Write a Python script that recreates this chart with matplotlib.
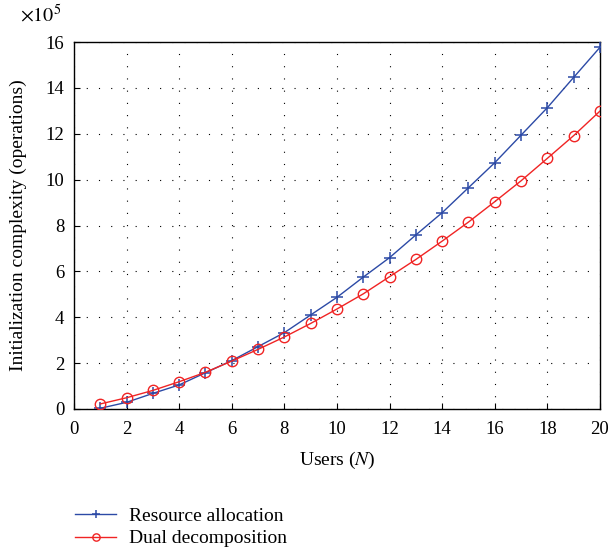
import matplotlib
matplotlib.use("Agg")
import matplotlib.pyplot as plt
import numpy as np

plt.rcParams['font.family'] = ['Liberation Serif', 'DejaVu Serif']
plt.rcParams['mathtext.fontset'] = 'stix'

users = list(range(1, 21))
resource_alloc = [0.03, 0.29, 0.68, 1.05, 1.58, 2.11, 2.72, 3.33, 4.10, 4.87,
                  5.75, 6.60, 7.59, 8.56, 9.65, 10.74, 11.94, 13.14, 14.46, 15.77]
dual_decomp = [0.22, 0.49, 0.81, 1.19, 1.60, 2.09, 2.60, 3.14, 3.73, 4.36,
               5.02, 5.77, 6.52, 7.32, 8.15, 9.04, 9.95, 10.93, 11.92, 12.99]
x_ticks = list(range(0, 21, 2))
y_ticks = list(range(0, 17, 2))

fig = plt.figure(figsize=(6.1, 5.5), dpi=100)
ax = fig.add_axes([0.1213, 0.2564, 0.8623, 0.6672])

blue = '#2c4aa6'
red = '#f02424'
ax.plot(users, resource_alloc, color=blue, lw=1.0, marker='+', ms=9, mew=1.1,
        label='Resource allocation', zorder=3)
ax.plot(users, dual_decomp, color=red, lw=1.0, marker='o', ms=7.5, mfc='none', mew=1.0,
        label='Dual decomposition', zorder=3)

ax.set_xlim(0, 20)
ax.set_ylim(0, 16)
ax.set_xticks(x_ticks)
ax.set_yticks(y_ticks)
ax.tick_params(direction='in', length=4, width=0.8, labelsize=13.5, top=False, right=False)
ax.tick_params(axis='x', pad=9)
ax.tick_params(axis='y', pad=7)
ax.grid(True, color='black', linestyle=(0, (1, 10)), linewidth=0.8)
for s in ax.spines.values():
    s.set_linewidth(1.0)

ax.set_xlabel('Users ($N$)', fontsize=14, labelpad=8)
ax.set_ylabel('Initialization complexity (operations)', fontsize=14, labelpad=13)
fig.text(0.033, 0.972, r'$\times 10^5$', fontsize=14.5, ha='left', va='center')

leg = ax.legend(loc='upper left', bbox_to_anchor=(-0.012, -0.247), frameon=False,
                fontsize=14, handlelength=2.1, handletextpad=0.65, labelspacing=0.25,
                borderaxespad=0, markerscale=0.7)

fig.savefig('out.png', dpi=100)
